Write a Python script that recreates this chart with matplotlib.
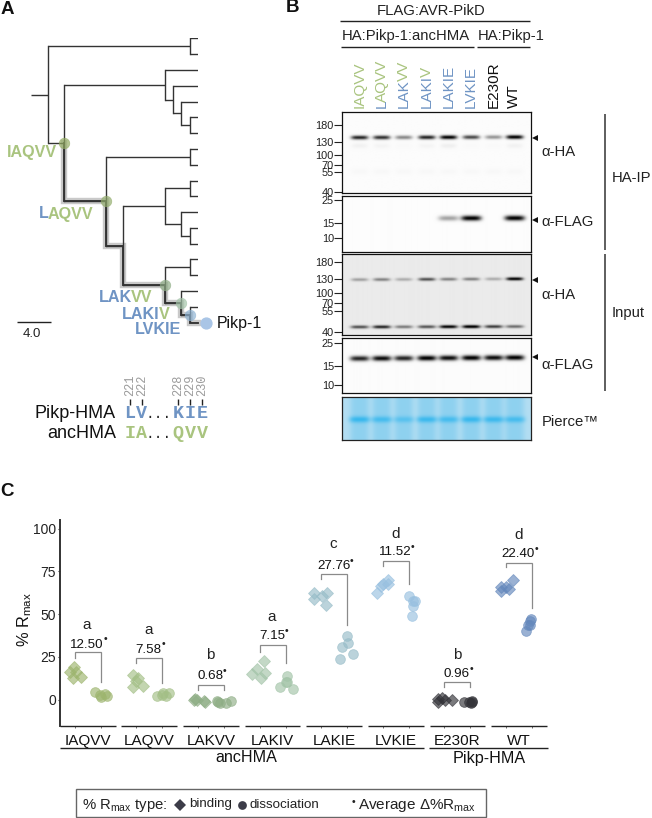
import numpy as np
import matplotlib
matplotlib.use("Agg")
import matplotlib.pyplot as plt
from matplotlib.patches import Rectangle

plt.rcParams['font.family'] = ['Liberation Sans', 'DejaVu Sans']
plt.rcParams['mathtext.fontset'] = 'custom'
plt.rcParams['mathtext.rm'] = 'Liberation Sans'
plt.rcParams['mathtext.it'] = 'Liberation Sans'
plt.rcParams['mathtext.bf'] = 'Liberation Sans:bold'

W, H = 652, 818
GREEN, BLUE = '#a9c47f', '#6f94c4'

# ---------- panel C data ----------
groups = ['IAQVV', 'LAQVV', 'LAKVV', 'LAKIV', 'LAKIE', 'LVKIE', 'E230R', 'WT']
group_colors = ['#9db56e', '#a3bf86', '#8fae86', '#a3c4a8', '#97bcc8', '#98c0e0', '#333338', '#6488bc']
binding_values = [
    [18.8, 15.8, 15.8, 12.9, 12.5],
    [14.5, 12.5, 10.6, 8.0, 7.2],
    [-0.5, -0.5, 0.2, -1.2, -1.0],
    [22.3, 18.0, 15.0, 15.4, 12.3],
    [62.3, 58.8, 60.8, 62.3, 55.0],
    [62.3, 66.2, 67.6, 70.0, 67.6],
    [0.2, 0.8, -1.2, -0.2, -0.2],
    [69.8, 65.8, 65.8, 63.3, 64.7],
]
binding_jitter = [
    [-.22, -.29, -.19, -.11, -.24],
    [-.27, -.18, -.21, -.10, -.27],
    [-.27, -.23, -.26, -.09, -.11],
    [-.14, -.25, -.33, -.12, -.18],
    [-.33, -.33, -.20, -.11, -.13],
    [-.30, -.24, -.21, -.12, -.12],
    [-.31, -.25, -.31, -.20, -.08],
    [-.10, -.29, -.21, -.29, -.16],
]
dissociation_values = [
    [4.2, 2.9, 2.3, 1.4, 3.1],
    [1.8, 3.7, 3.9, 1.8, 2.5],
    [-1.2, -1.8, -1.8, -1.0, -1.0],
    [13.5, 10.5, 7.6, 6.3, 10.0],
    [36.9, 33.0, 31.0, 26.8, 23.4],
    [60.8, 57.4, 57.4, 54.5, 48.8],
    [-1.2, -1.2, -1.2, -0.6, -2.1],
    [47.0, 45.7, 43.8, 39.9, 43.8],
]
dissociation_jitter = [
    [.12, .20, .32, .22, .28],
    [.13, .22, .32, .27, .21],
    [.12, .15, .25, .33, .10],
    [.24, .23, .12, .33, .22],
    [.20, .23, .12, .30, .09],
    [.21, .28, .31, .28, .26],
    [.11, .18, .23, .23, .22],
    [.20, .17, .14, .11, .18],
]
delta_labels = ['12.50', '7.58', '0.68', '7.15', '27.76', '11.52', '0.96', '22.40']
letters = ['a', 'a', 'b', 'a', 'c', 'd', 'b', 'd']
delta_y = [32, 29, 13.5, 37, 78, 86, 14.8, 85]
letter_y = [43.4, 40.4, 26, 48, 90.7, 97, 26, 96]
bracket_top = [27.5, 24.2, 8.6, 31.7, 73.3, 80.9, 10.2, 80]
bracket_left = [24.2, 21.3, 5.7, 28, 70.5, 78, 7.6, 77.4]
bracket_right = [10, 9.6, 5.7, 21.3, 43.8, 67.8, 7.6, 53.5]

# ---------- panel A data ----------
tree = (0, [
    (17, [None, None]),
    (2, [
        (14, [None, (15, [None, (16, [None, (17, [None, None])])])]),
        (7, [
            (17, [None, None]),
            (9, [
                (14, [(17, [None, None]), (16, [None, (17, [None, None])])]),
                (14, [(17, [None, None]), (16, [None, (17, [None, None], 'LVKIE')], 'LAKIV')], 'LAKVV'),
            ], 'node9'),
        ], 'LAQVV'),
    ], 'IAQVV'),
])
TIP_DEPTH = 18
node_colors = {'IAQVV': '#94ad62', 'LAQVV': '#93ad6c', 'LAKVV': '#8fae86',
               'LAKIV': '#a3c4a8', 'LVKIE': '#8fb4d4'}
lineage = ['IAQVV', 'LAQVV', 'node9', 'LAKVV', 'LAKIV', 'LVKIE']
residue_numbers = ['221', '222', '228', '229', '230']

# ---------- panel B data ----------
lane_names = [[('IAQVV', GREEN)], [('L', BLUE), ('AQVV', GREEN)], [('LAK', BLUE), ('VV', GREEN)],
              [('LAKI', BLUE), ('V', GREEN)], [('LAKIE', BLUE)], [('LVKIE', BLUE)],
              [('E230R', '#111111')], [('WT', '#111111')]]
ip_ha_main = [.85, .80, .45, .85, 1.0, .70, .40, 1.0]
ip_ha_faint = [.04, .03, .01, .03, .05, .01, .01, .04]
ip_flag = [0, 0, 0, 0, .35, 1.0, 0, 1.0]
in_ha_upper = [.30, .42, .25, .62, .42, .42, .25, .95]
in_ha_lower = [.62, .80, .45, .60, .95, 1.0, .70, .50]
in_flag = [.85, .95, .85, 1.0, .95, 1.0, .95, 1.0]
pierce_band = [.90, .75, .55, .85, .75, .90, .85, .75]
lane_px = [359.7, 381.7, 403.7, 426.7, 448.3, 471, 493.3, 514.3]

fig = plt.figure(figsize=(W / 100, H / 100), dpi=100, facecolor='white')
ov = fig.add_axes([0, 0, 1, 1], zorder=5)
ov.set_xlim(0, W)
ov.set_ylim(H, 0)
ov.axis('off')
ov.patch.set_alpha(0)
renderer = fig.canvas.get_renderer()


def runs(x, y, parts, size, weight='normal', vertical=False):
    for s, c in parts:
        kw = dict(color=c, fontsize=size, fontweight=weight)
        if vertical:
            t = ov.text(x, y, s, rotation=90, ha='center', va='bottom', **kw)
            y -= t.get_window_extent(renderer).height - 2.0
        else:
            t = ov.text(x, y, s, ha='left', va='center', **kw)
            x += t.get_window_extent(renderer).width - 0.8


def line(x0, y0, x1, y1, c='#222222', lw=1.0):
    ov.plot([x0, x1], [y0, y1], color=c, lw=lw, solid_capstyle='butt')


def bullet_after(t, dy=0.5):
    bb = t.get_window_extent(renderer)
    ov.text(bb.x1 - 0.5, H - bb.y1 + dy, '•', fontsize=7.5, ha='left', va='center', color='#222222')


# panel letters
for s, x, y in [('A', 1, 9), ('B', 286, 8), ('C', 0, 491)]:
    ov.text(x, y, s, fontsize=13.5, fontweight='bold', ha='left', va='center', color='#111111')

# ---------- Panel A: tree ----------
tx = fig.add_axes([31 / W, 1 - 322.7 / H, 167 / W, 284.4 / H], zorder=2)
tx.set_xlim(-2, TIP_DEPTH)
tx.set_ylim(18, 0)
tx.axis('off')
leaf_count = [0]
marked = {}
TREE_C = '#333333'


def layout(node):
    depth, kids = node[0], node[1]
    ys = []
    for k in kids:
        if k is None:
            y = leaf_count[0]
            leaf_count[0] += 1
            tx.plot([depth, TIP_DEPTH], [y, y], color=TREE_C, lw=1.0, solid_capstyle='butt', zorder=3)
        else:
            y = layout(k)
            tx.plot([depth, k[0]], [y, y], color=TREE_C, lw=1.0, solid_capstyle='butt', zorder=3)
        ys.append(y)
    tx.plot([depth, depth], [ys[0], ys[-1]], color=TREE_C, lw=1.0, zorder=3)
    yc = sum(ys) / 2
    if len(node) > 2:
        marked[node[2]] = (depth, yc)
    return yc


root_y = layout(tree)
tx.plot([-2, 0], [root_y, root_y], color=TREE_C, lw=1.0, solid_capstyle='butt', zorder=3)
seq = [marked[n] for n in lineage] + [(TIP_DEPTH, leaf_count[0] - 1)]
px_, py_ = [], []
for (d0, y0), (d1, y1) in zip(seq[:-1], seq[1:]):
    px_ += [d0, d0, d1]
    py_ += [y0, y1, y1]
tx.plot(px_, py_, color='#c9c9c9', lw=4.6, solid_joinstyle='miter', zorder=1, clip_on=False)
tx.plot(px_, py_, color=TREE_C, lw=1.35, solid_joinstyle='miter', zorder=3.5, clip_on=False)
for name, col in node_colors.items():
    d, y = marked[name]
    tx.plot([d], [y], 'o', ms=7.6, mfc=col, mec=col, alpha=.68, mew=.5, zorder=4, clip_on=False)
tx.plot([TIP_DEPTH + .92], [leaf_count[0] - 1], 'o', ms=7.8, mfc='#a9c5e6', mec='#a9c5e6', clip_on=False, zorder=4)

runs(7, 152.7, [('IAQVV', GREEN)], 11.6, 'bold')
runs(39, 214, [('L', BLUE), ('AQVV', GREEN)], 11.6, 'bold')
runs(99, 297.3, [('LAK', BLUE), ('VV', GREEN)], 11.6, 'bold')
runs(122, 314.7, [('LAKI', BLUE), ('V', GREEN)], 11.6, 'bold')
runs(135, 329.3, [('LVKIE', BLUE)], 11.6, 'bold')
ov.text(216.5, 323.3, 'Pikp-1', fontsize=11.4, va='center', ha='left', color='#111111')
line(17, 322, 51, 322, '#222222', 1.0)
ov.text(32, 334, '4.0', fontsize=9.5, ha='center', va='center', color='#222222')

# alignment
ov.text(116, 414, 'Pikp-HMA', fontsize=13, ha='right', va='center', color='#111111')
ov.text(116, 433, 'ancHMA', fontsize=13, ha='right', va='center', color='#111111')
res_x = [130, 141.7, 178, 190, 202]
top_res = 'LVKIE'
bot_res = 'IAQVV'
for x, n, a, b in zip(res_x, residue_numbers, top_res, bot_res):
    ov.text(x, 396.5, n, rotation=90, ha='center', va='bottom', fontsize=8.6,
            family='Liberation Mono', color='#9a9a9a')
    line(x, 399, x, 404.5, '#222222', 1.0)
    ov.text(x, 414, a, fontsize=13.2, fontweight='bold', family='Liberation Mono', ha='center', va='center', color=BLUE)
    ov.text(x, 433, b, fontsize=13.2, fontweight='bold', family='Liberation Mono', ha='center', va='center', color=GREEN)
for y in (414.5, 433.5):
    ov.text(159, y, '...', fontsize=10.5, family='Liberation Mono', ha='center', va='center', color='#222222')

# ---------- Panel B: blots ----------
def blot(x0, y0, x1, y1, bg, bands, yt, ytl):
    ax = fig.add_axes([x0 / W, 1 - y1 / H, (x1 - x0) / W, (y1 - y0) / H], zorder=3)
    xs = np.arange(x0, x1, .5)
    ys = np.arange(y0, y1, .5)
    X, Y = np.meshgrid(xs, ys)
    img = np.full(X.shape, float(bg))
    for levels, yc, sig, half, tilt in bands:
        for lx, lv in zip(lane_px, levels):
            yy = yc + tilt * (lx - 437) / 100
            img -= lv * np.exp(-((X - lx) / half) ** 4) * np.exp(-((Y - yy) / sig) ** 2)
    ax.imshow(np.clip(img, 0, 1), cmap='gray', vmin=0, vmax=1, extent=(x0, x1, y1, y0), aspect='auto',
              interpolation='bilinear')
    ax.set_xticks([])
    ax.set_yticks(yt)
    ax.set_yticklabels(ytl, fontsize=7.9, color='#222222')
    ax.tick_params(axis='y', length=5.5, width=.8, pad=0.5, color='#222222')
    for s in ax.spines.values():
        s.set_linewidth(.9)
        s.set_color('#111111')
    return ax


blot(342.3, 112.3, 530.7, 193.3, .985, [(ip_ha_main, 137.5, 2.0, 8.5, -.3), (ip_ha_faint, 146, 2.5, 8, 0),
                                       ([.015] * 8, 172, 2.5, 8, 0)],
     [125, 141.7, 155, 165, 171.7, 191.7], ['180', '130', '100', '70', '55', '40'])
blot(342.3, 196, 530.7, 251.7, .99, [(ip_flag, 218, 2.6, 10, -.2)],
     [200, 222.7, 238], ['25', '15', '10'])
blot(342.3, 254, 530.7, 335, .92, [(in_ha_upper, 279, 1.6, 8.5, -.5), (in_ha_lower, 326.5, 1.6, 9, -.3)],
     [262, 279.3, 293.3, 303.3, 311, 331.7], ['180', '130', '100', '70', '55', '40'])
blot(342.3, 337.7, 530.7, 393.3, .985, [(in_flag, 358.5, 2.6, 9.5, -.6)],
     [343.3, 365.7, 385], ['25', '15', '10'])

# Pierce stain panel
px0, py0, px1, py1 = 342.3, 397.3, 530.7, 440
pa = fig.add_axes([px0 / W, 1 - py1 / H, (px1 - px0) / W, (py1 - py0) / H], zorder=3)
xs = np.arange(px0, px1, .5)
ys = np.arange(py0, py1, .5)
X, Y = np.meshgrid(xs, ys)
lane_mask = np.zeros(X.shape)
band = np.zeros(X.shape)
for lx, lv in zip(lane_px, pierce_band):
    lane_mask += np.exp(-((X - lx) / 9.5) ** 4)
    band += lv * np.exp(-((X - lx) / 10) ** 4) * np.exp(-((Y - 419.5) / 3.2) ** 2)
lane_mask = np.clip(lane_mask, 0, 1)[..., None]
band = np.clip(band, 0, 1)[..., None]
c_gap, c_lane, c_band = np.array([.70, .87, .95]), np.array([.56, .82, .94]), np.array([.18, .71, .93])
rgb = c_gap * (1 - lane_mask) + c_lane * lane_mask
rgb = rgb * (1 - band) + c_band * band
pa.imshow(rgb, extent=(px0, px1, py1, py0), aspect='auto')
pa.set_xticks([])
pa.set_yticks([])
for s in pa.spines.values():
    s.set_linewidth(.9)
    s.set_color('#222222')

# B annotations
ov.text(431, 11, 'FLAG:AVR-PikD', fontsize=10.7, ha='center', va='center', color='#222222')
line(340, 21.3, 530, 21.3)
ov.text(405.7, 36, 'HA:Pikp-1:ancHMA', fontsize=10.7, ha='center', va='center', color='#222222')
line(341, 46.7, 474, 46.7)
ov.text(510.7, 36, 'HA:Pikp-1', fontsize=10.7, ha='center', va='center', color='#222222')
line(477, 46.7, 530, 46.7)
for lx, parts in zip(lane_px, lane_names):
    runs(lx, 108, parts, 11, vertical=True)
for y, s in [(152.5, 'α-HA'), (222, 'α-FLAG'), (295, 'α-HA'), (365, 'α-FLAG'), (421.7, 'Pierce™')]:
    ov.text(541.7, y, s, fontsize=10.7, ha='left', va='center', color='#222222')
for y in (138, 219.5, 280, 357):
    ov.plot([535], [y], marker='<', ms=5, color='#111111', mew=0)
line(605, 114, 605, 250, '#333333', 1.1)
line(605, 254, 605, 391, '#333333', 1.1)
ov.text(612, 178, 'HA-IP', fontsize=10.7, ha='left', va='center', color='#222222')
ov.text(612, 312.7, 'Input', fontsize=10.7, ha='left', va='center', color='#222222')

# ---------- Panel C ----------
ax = fig.add_axes([60 / W, 1 - 726 / H, 488 / W, 206 / H], zorder=4)
ax.patch.set_alpha(0)
ax.set_xlim(-.45, 7.47)
ax.set_ylim(-15.5, 105)
for i, g in enumerate(groups):
    c = group_colors[i]
    ax.plot(i + np.array(binding_jitter[i]), binding_values[i], 'D', ms=6.2, mfc=c, mec=c, mew=.6, alpha=.65,
            linestyle='none', clip_on=False)
    ax.plot(i + np.array(dissociation_jitter[i]), dissociation_values[i], 'o', ms=7, mfc=c, mec=c, mew=.6,
            alpha=.65, linestyle='none', clip_on=False)
    ax.plot([i - .21, i - .21, i + .21, i + .21],
            [bracket_left[i], bracket_top[i], bracket_top[i], bracket_right[i]],
            color='#8a8a8a', lw=.9, solid_joinstyle='miter')
    t = ax.text(i - .01, delta_y[i], delta_labels[i], ha='center', va='center', fontsize=9.6, color='#111111')
    bullet_after(t)
    ax.text(i - .01, letter_y[i], letters[i], ha='center', va='center', fontsize=11, color='#222222')
    ax.plot([i - .452, i + .452], [-15.5, -15.5], color='#222222', lw=1.0, clip_on=False, solid_capstyle='butt')
for s in ['top', 'right', 'bottom']:
    ax.spines[s].set_visible(False)
ax.spines['left'].set_linewidth(1.4)
ax.spines['left'].set_color('#333333')
ax.set_yticks([0, 25, 50, 75, 100])
ax.tick_params(axis='y', labelsize=10, length=1.8, width=.8, pad=1, color='#333333', labelcolor='#222222')
ticks = [i + d for i in range(len(groups)) for d in (-.21, .21)]
ax.set_xticks(ticks)
ax.set_xticklabels([])
ax.tick_params(axis='x', length=1.5, width=.6, color='#555555')
for i, g in enumerate(groups):
    ax.annotate(g, (i, 0), xycoords=('data', 'axes fraction'), xytext=(0, -10.5), textcoords='offset points',
                ha='center', va='center', fontsize=11, color='#111111')
ov.text(25, 620, r'% R$_{\mathrm{max}}$', rotation=90, fontsize=11.8, ha='center', va='center', color='#111111')
line(60, 747.7, 424, 747.7)
line(429, 747.7, 548, 747.7)
ov.text(246, 758, 'ancHMA', fontsize=11.6, ha='center', va='center', color='#111111')
ov.text(489, 758, 'Pikp-HMA', fontsize=11.6, ha='center', va='center', color='#111111')

# legend
ov.add_patch(Rectangle((76, 789), 410, 28, fc='white', ec='#666666', lw=1.0, clip_on=False))
ov.text(82, 805, r'% R$_{\mathrm{max}}$ type:', fontsize=10.7, ha='left', va='center', color='#222222')
ov.plot([180], [805], 'D', ms=6.6, color='#3c3c48', mew=0)
ov.text(189, 804.5, 'binding', fontsize=9.6, ha='left', va='center', color='#222222')
ov.plot([242.3], [805], 'o', ms=6.3, color='#3c3c48', mew=0)
ov.text(250, 804.5, 'dissociation', fontsize=9.6, ha='left', va='center', color='#222222')
ov.text(352, 802, '•', fontsize=7.5, ha='left', va='center', color='#222222')
ov.text(358, 805, r'Average Δ%R$_{\mathrm{max}}$', fontsize=11, ha='left', va='center', color='#222222')

fig.savefig('out.png', dpi=100, facecolor='white')
